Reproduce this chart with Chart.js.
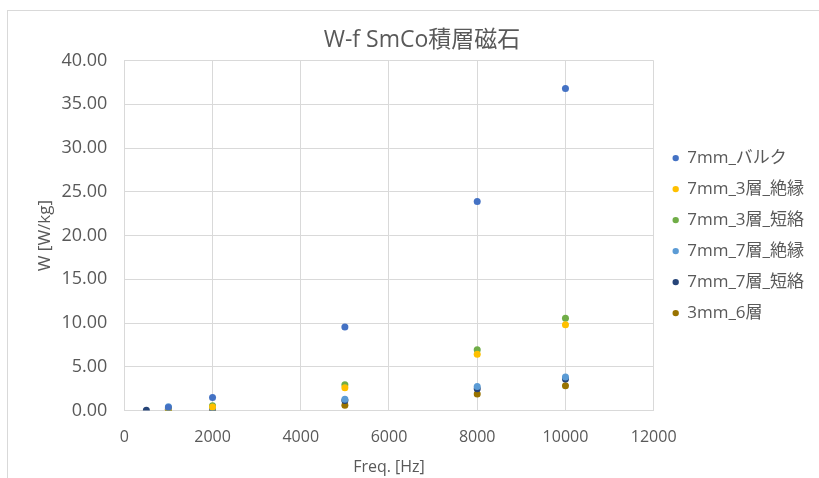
<!DOCTYPE html>
<html>
<head>
<meta charset="utf-8">
<script src="https://cdn.jsdelivr.net/npm/chart.js@4"></script>
<style>
  html, body { margin: 0; padding: 0; background: #fff; }
  #frame { position: absolute; left: 7px; top: 10px; width: 830px; height: 480px;
           border-top: 1px solid #d9d9d9; border-left: 1px solid #d9d9d9; }
  #wrap { position: absolute; left: 0; top: 0; width: 819px; height: 478px; }
</style>
</head>
<body>
<div id="frame"></div>
<div id="wrap"><canvas id="wf"></canvas></div>
<script>
// W-f SmCo積層磁石
const seriesNames = ['7mm_バルク', '7mm_3層_絶縁', '7mm_3層_短絡', '7mm_7層_絶縁', '7mm_7層_短絡', '3mm_6層'];
const seriesColors = ['#4472C4', '#FFC000', '#70AD47', '#5B9BD5', '#264478', '#997300'];

const freqFive = [1000, 2000, 5000, 8000, 10000];
const freqSix = [500, 1000, 2000, 5000, 8000, 10000];

const bulkW = [0.35, 1.5, 9.55, 23.9, 36.8];
const ins3W = [0.15, 0.4, 2.6, 6.45, 9.8];
const short3W = [0.2, 0.55, 2.95, 6.95, 10.55];
const ins7W = [0.45, 0.3, 1.3, 2.75, 3.85];
const short7W = [0.05, 0.15, 0.2, 1.15, 2.5, 3.6];
const mm3W = [0.08, 0.1, 0.6, 1.9, 2.85];

const xTicks = [0, 2000, 4000, 6000, 8000, 10000, 12000];
const yTicks = [0, 5, 10, 15, 20, 25, 30, 35, 40];

const seriesFreq = [freqFive, freqFive, freqFive, freqFive, freqSix, freqFive];
const seriesW = [bulkW, ins3W, short3W, ins7W, short7W, mm3W];

const fontFam = '"Open Sans", "Noto Sans CJK JP", sans-serif';
const grey = '#595959';
const gridCol = '#d9d9d9';

// 凡例を少し右へ
const legendShift = {
    id: 'legendShift',
    afterLayout(chart) {
        chart.legend.left += 5;
        chart.legend.right += 5;
    }
};

const ctx = document.getElementById('wf');

new Chart(ctx, {
    type: 'scatter',
    data: {
        datasets: seriesNames.map((name, i) => ({
            label: name,
            data: seriesW[i].map((w, j) => ({ x: seriesFreq[i][j], y: w })),
            backgroundColor: seriesColors[i],
            borderColor: seriesColors[i],
            pointRadius: 3.5,
            pointBorderWidth: 0,
        }))
    },
    plugins: [legendShift],
    options: {
        responsive: true,
        maintainAspectRatio: false,
        animation: false,
        layout: {
            padding: { left: 35, right: 10, top: 27, bottom: 1 }
        },
        plugins: {
            title: {
                display: true,
                text: 'W-f SmCo積層磁石',
                color: grey,
                font: { family: fontFam, size: 23, weight: 'normal' },
                padding: { top: 0, bottom: 6 }
            },
            legend: {
                position: 'right',
                fullSize: false,
                labels: {
                    usePointStyle: true,
                    pointStyle: 'circle',
                    boxWidth: 6,
                    boxHeight: 4.5,
                    padding: 14,
                    color: grey,
                    font: { family: fontFam, size: 17 }
                }
            },
            tooltip: { enabled: false }
        },
        scales: {
            x: {
                type: 'linear',
                min: 0,
                max: 12000,
                afterBuildTicks: axis => { axis.ticks = xTicks.map(v => ({ value: v })); },
                ticks: {
                    color: grey,
                    font: { family: fontFam, size: 16 },
                    padding: 17,
                    callback: v => String(v)
                },
                grid: { color: gridCol, drawTicks: false },
                border: { color: gridCol },
                title: {
                    display: true,
                    text: 'Freq. [Hz]',
                    color: grey,
                    font: { family: fontFam, size: 16 },
                    padding: { top: -6, bottom: 0 }
                }
            },
            y: {
                type: 'linear',
                min: 0,
                max: 40,
                afterBuildTicks: axis => { axis.ticks = yTicks.map(v => ({ value: v })); },
                ticks: {
                    color: grey,
                    font: { family: fontFam, size: 18 },
                    padding: 17,
                    callback: v => v.toFixed(2)
                },
                grid: { color: gridCol, drawTicks: false },
                border: { color: gridCol },
                title: {
                    display: true,
                    text: 'W [W/kg]',
                    color: grey,
                    font: { family: fontFam, size: 17 },
                    padding: { top: 0, bottom: -11 }
                }
            }
        }
    }
});
</script>
</body>
</html>
